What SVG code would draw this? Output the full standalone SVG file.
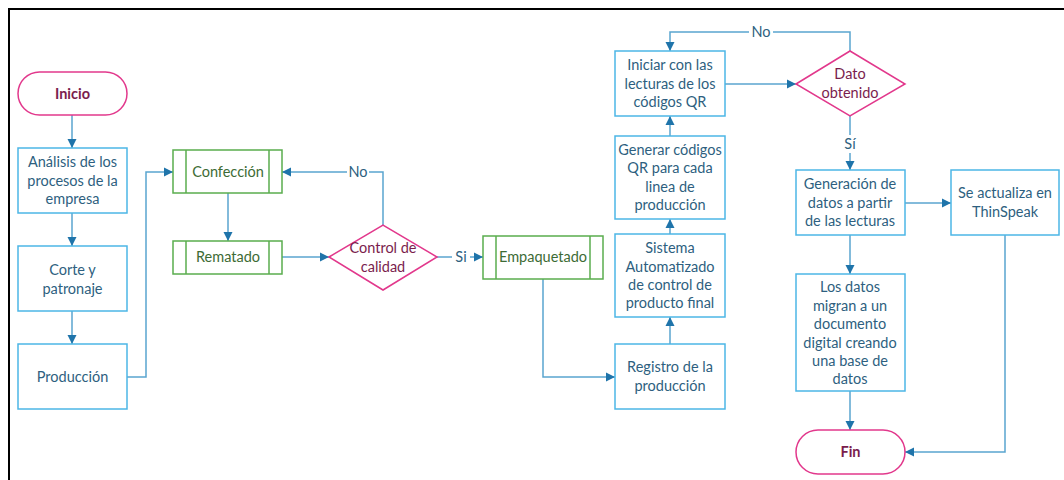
<svg xmlns="http://www.w3.org/2000/svg" width="1064" height="480" viewBox="0 0 1064 480">
<defs>
<marker id="ah" markerWidth="10" markerHeight="10" refX="9" refY="5" orient="auto" markerUnits="userSpaceOnUse">
<path d="M0,0.5 L9,5 L0,9.5 Z" fill="#1f74aa"/>
</marker>
</defs>
<style>
text{font-family:Lato,"Open Sans","Liberation Sans",sans-serif;font-size:14.5px;text-anchor:middle;dominant-baseline:central}
.b rect{fill:#fff;stroke:#4cb6e6;stroke-width:1.5}
.b text{fill:#2e5f80}
.g rect,.g line{fill:#fff;stroke:#5aad4e;stroke-width:1.5}
.g text{fill:#3d6b35}
.p rect,.p polygon{fill:#fff;stroke:#e2388c;stroke-width:1.5}
.p text{fill:#7a1d4d}
.t text{font-weight:bold}
.c path{fill:none;stroke:#5aa5cf;stroke-width:1.5}
.c .a{marker-end:url(#ah)}
.c text{fill:#2e5f80}
</style>
<rect x="9" y="9" width="1070" height="480" fill="#fff" stroke="#000" stroke-width="2"/>

<g class="c" id="connectors">
<path class="a" d="M72,115 V148"/>
<path class="a" d="M72,213 V246"/>
<path class="a" d="M72,311 V344"/>
<path class="a" d="M127,377 H146 V172 H173"/>
<path class="a" d="M228,193 V241"/>
<path class="a" d="M282,257 H329"/>
<path class="a" d="M383,225 V172 H282"/>
<path class="a" d="M437,257 H483"/>
<path class="a" d="M543,279 V377 H615"/>
<path class="a" d="M670,344 V317"/>
<path class="a" d="M670,234 V219"/>
<path class="a" d="M670,136 V116"/>
<path class="a" d="M725,84 H796"/>
<path class="a" d="M850,51 V32 H670 V51"/>
<path class="a" d="M850,116 V170"/>
<path class="a" d="M905,203 H951"/>
<path class="a" d="M850,235 V274"/>
<path class="a" d="M850,391 V430"/>
<path class="a" d="M1005,235 V452 H905"/>
<rect x="347" y="163" width="22" height="18" fill="#fff"/>
<text x="358" y="171">No</text>
<rect x="452" y="248" width="18" height="18" fill="#fff"/>
<text x="461" y="256">Si</text>
<rect x="749" y="23" width="24" height="18" fill="#fff"/>
<text x="761" y="31">No</text>
<rect x="842" y="135" width="16" height="18" fill="#fff"/>
<text x="850" y="143">Sí</text>
</g>

<g id="inicio" class="p t"><rect x="18" y="72" width="109" height="43" rx="21.5"/><text x="72.5" y="93">Inicio</text></g>
<g id="analisis" class="b"><rect x="18" y="148" width="109" height="65"/><text x="72.5" y="161">Análisis de los</text><text x="72.5" y="180">procesos de la</text><text x="72.5" y="198">empresa</text></g>
<g id="corte" class="b"><rect x="18" y="246" width="109" height="65"/><text x="72.5" y="269">Corte y</text><text x="72.5" y="288">patronaje</text></g>
<g id="produccion" class="b"><rect x="18" y="344" width="109" height="65"/><text x="72.5" y="376">Producción</text></g>

<g id="confeccion" class="g"><rect x="173" y="150" width="109" height="43"/><line x1="186" y1="150" x2="186" y2="193"/><line x1="269" y1="150" x2="269" y2="193"/><text x="228" y="171">Confección</text></g>
<g id="rematado" class="g"><rect x="173" y="241" width="109" height="33"/><line x1="186" y1="241" x2="186" y2="274"/><line x1="269" y1="241" x2="269" y2="274"/><text x="228" y="256">Rematado</text></g>
<g id="control" class="p"><polygon points="329,257 383,225 437,257 383,290"/><text x="383" y="247">Control de</text><text x="383" y="266">calidad</text></g>
<g id="empaquetado" class="g"><rect x="483" y="236" width="120" height="43"/><line x1="496" y1="236" x2="496" y2="279"/><line x1="590" y1="236" x2="590" y2="279"/><text x="543" y="256">Empaquetado</text></g>

<g id="registro" class="b"><rect x="615" y="344" width="110" height="65"/><text x="670" y="366">Registro de la</text><text x="670" y="385">producción</text></g>
<g id="sistema" class="b"><rect x="615" y="234" width="110" height="83"/><text x="670" y="247">Sistema</text><text x="670" y="266">Automatizado</text><text x="670" y="284">de control de</text><text x="670" y="302">producto final</text></g>
<g id="generar" class="b"><rect x="615" y="136" width="110" height="83"/><text x="670" y="149">Generar códigos</text><text x="670" y="167">QR para cada</text><text x="670" y="186">linea de</text><text x="670" y="204">producción</text></g>
<g id="iniciar" class="b"><rect x="615" y="51" width="110" height="65"/><text x="670" y="64">Iniciar con las</text><text x="670" y="83">lecturas de los</text><text x="670" y="101">códigos QR</text></g>

<g id="dato" class="p"><polygon points="796,84 850,51 905,84 850,116"/><text x="850" y="73">Dato</text><text x="850" y="92">obtenido</text></g>
<g id="generacion" class="b"><rect x="796" y="170" width="109" height="65"/><text x="850" y="183">Generación de</text><text x="850" y="202">datos a partir</text><text x="850" y="220">de las lecturas</text></g>
<g id="thinspeak" class="b"><rect x="951" y="170" width="108" height="65"/><text x="1005" y="192">Se actualiza en</text><text x="1005" y="211">ThinSpeak</text></g>
<g id="losdatos" class="b"><rect x="796" y="274" width="109" height="117"/><text x="850" y="286">Los datos</text><text x="850" y="305">migran a un</text><text x="850" y="323">documento</text><text x="850" y="342">digital creando</text><text x="850" y="360">una base de</text><text x="850" y="378">datos</text></g>
<g id="fin" class="p t"><rect x="796" y="430" width="109" height="44" rx="22"/><text x="850.5" y="451">Fin</text></g>
</svg>
